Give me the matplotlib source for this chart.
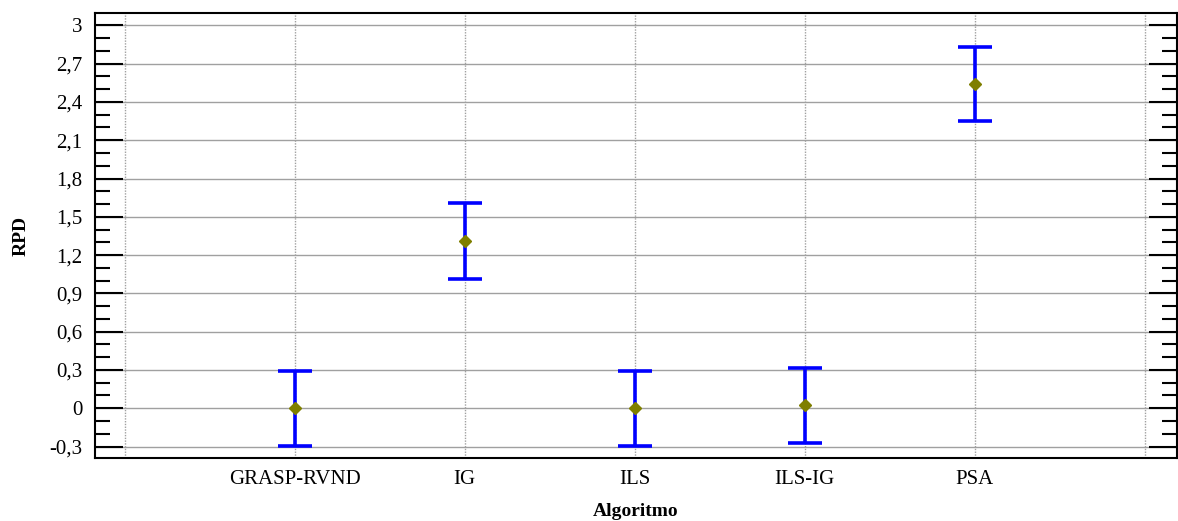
import matplotlib.pyplot as plt
from matplotlib.ticker import MultipleLocator, FuncFormatter

algoritmos = ["GRASP-RVND", "IG", "ILS", "ILS-IG", "PSA"]
medias = [0.0, 1.31, 0.0, 0.023, 2.54]
meia_largura = [0.293, 0.295, 0.293, 0.292, 0.293]

plt.rcParams['font.family'] = ['Liberation Serif', 'DejaVu Serif']

fig = plt.figure(figsize=(11.78, 5.21), dpi=100)
ax = fig.add_axes([95 / 1178, 1 - 458 / 521, 1082 / 1178, 445 / 521])

pos = list(range(1, len(algoritmos) + 1))
ax.errorbar(pos, medias, yerr=meia_largura, fmt='none', ecolor='#0000ff',
            elinewidth=2.6, capsize=12, capthick=2.6, zorder=3)
ax.plot(pos, medias, 'D', color='#7f7f00', ms=6.5, mec='#7f7f00', zorder=4)

ax.set_xlim(-0.175, 6.19)
ax.set_ylim(-0.39, 3.097)

ax.set_xticks([0] + pos + [6])
ax.set_xticklabels([""] + algoritmos + [""], fontsize=15)
ax.tick_params(axis='x', length=0, pad=9)

ax.yaxis.set_major_locator(MultipleLocator(0.3))
ax.yaxis.set_minor_locator(MultipleLocator(0.1))
ax.yaxis.set_major_formatter(FuncFormatter(lambda v, p: ("%g" % round(v, 1)).replace(".", ",")))
ax.tick_params(axis='y', which='major', direction='in', length=20, width=1.5,
               labelsize=15, right=True, pad=9)
ax.tick_params(axis='y', which='minor', direction='in', length=11, width=1.5, right=True)

ax.grid(axis='y', which='major', color='#a0a0a0', linewidth=1)
ax.grid(axis='x', which='major', color='#a0a0a0', linewidth=1, linestyle=(0, (1, 1)))
ax.set_axisbelow(True)

for s in ax.spines.values():
    s.set_linewidth(1.5)

ax.set_xlabel("Algoritmo", fontsize=14, fontweight='bold', labelpad=10)
ax.set_ylabel("RPD", fontsize=14, fontweight='bold', labelpad=14)

fig.savefig("out.png", dpi=100)
